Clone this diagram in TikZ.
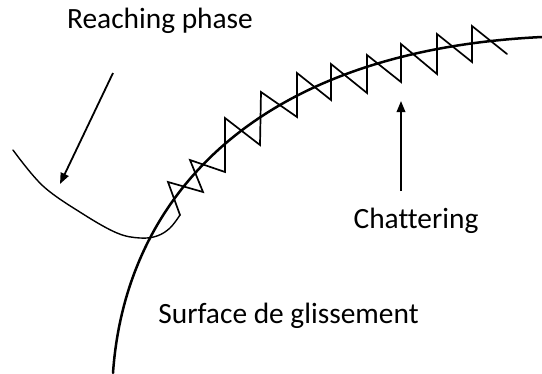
\documentclass[tikz,border=0pt]{standalone}
\usepackage{fontspec}
\setmainfont[RawFeature=-liga]{Carlito}
\usetikzlibrary{arrows.meta}
\begin{document}
\begin{tikzpicture}[x=1pt,y=-1pt,
  lbl/.style={font=\fontsize{29.4}{32}\selectfont, inner sep=0pt, anchor=base},
  surf/.style={line width=2.5pt, line cap=round},
  thin/.style={line width=1.4pt, line cap=round},
  chat/.style={line width=1.7pt, line join=miter, line cap=round},
  arr/.style={line width=1.8pt, -{Triangle[length=11pt,width=8.5pt]}}]
\useasboundingbox (0,0) rectangle (542,373);
% labels
\node[lbl] (reach) at (160,28) {Reaching phase};
\node[lbl] (chatl) at (416,228) {Chattering};
\node[lbl] (surfl) at (288.5,323) {Surface de glissement};
% sliding surface
\draw[surf] (113,373) .. controls (125,200) and (252,51) .. (542,37);
% reaching phase trajectory
\draw[thin] plot[smooth, tension=0.6] coordinates {(13,150) (43,186) (83,214) (117,233) (140,238) (157,236) (170,228) (180,215)};
% chattering
\draw[chat] (180,215) -- (168,182) -- (203,192) -- (190,160) -- (225,172) -- (225,118)
  -- (260,145) -- (261,92) -- (297,117) -- (297,73) -- (331,100) -- (331,64)
  -- (367,93) -- (367,55) -- (401,82) -- (401,44) -- (437,74) -- (437,34)
  -- (472,62) -- (472,26) -- (507,54);
% arrows
\coordinate (ra) at (113,73);
\coordinate (rb) at (60,184);
\coordinate (ca) at (401,191);
\coordinate (cb) at (401,101);
\draw[arr] (ra) -- (rb);
\draw[arr] (ca) -- (cb);
\end{tikzpicture}
\end{document}
